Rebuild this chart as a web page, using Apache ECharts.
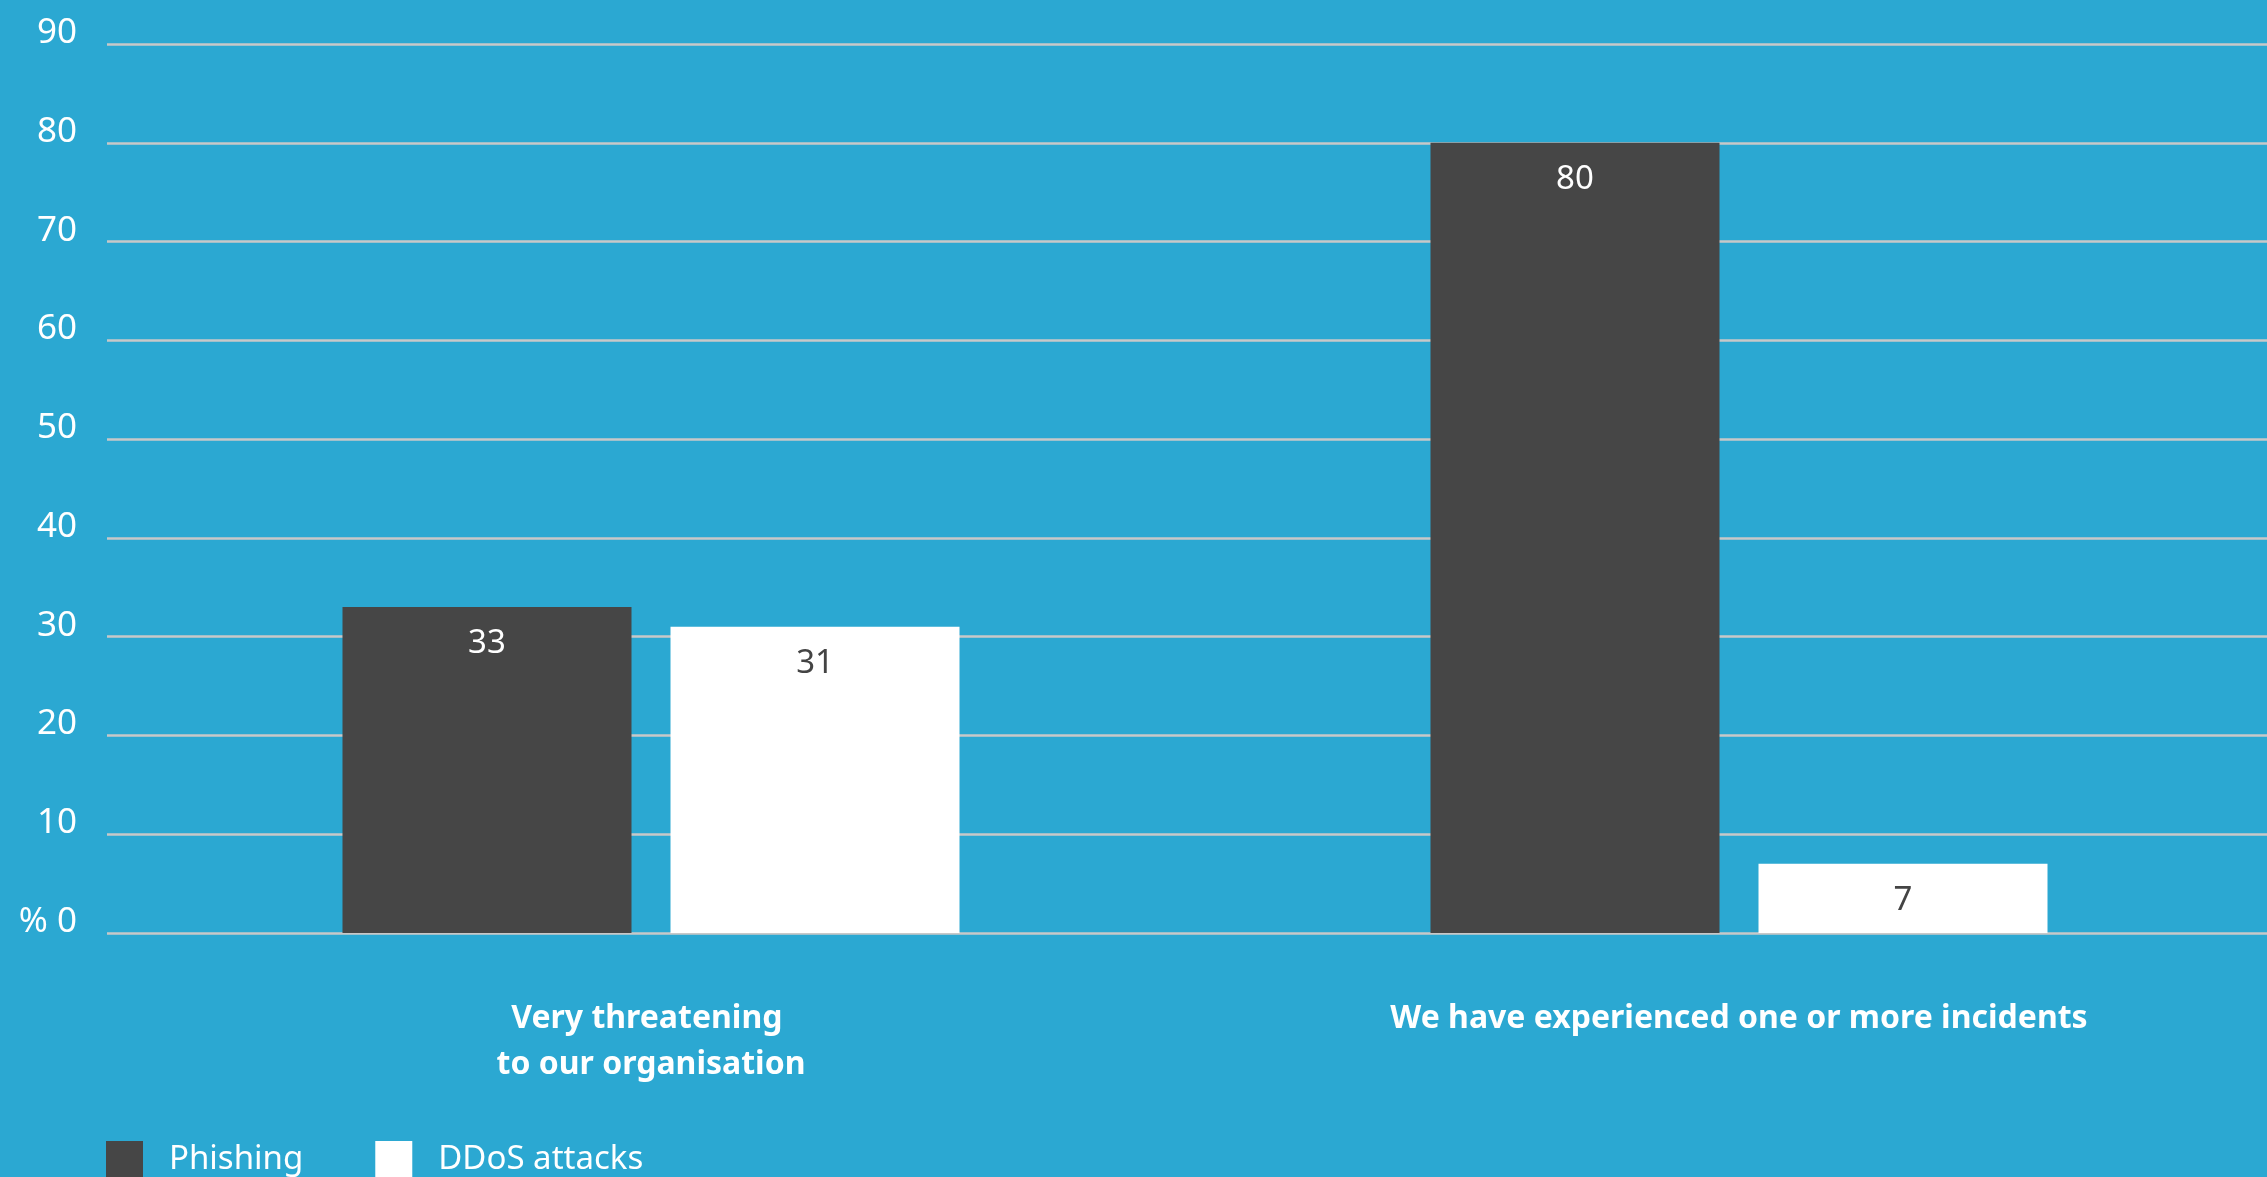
<!DOCTYPE html>
<html>
<head>
<meta charset="utf-8">
<script src="https://cdn.jsdelivr.net/npm/echarts@6/dist/echarts.min.js"></script>
<style>
  html, body { margin: 0; padding: 0; background: #2ba8d2; }
  #chart { width: 2267px; height: 1177px; }
</style>
</head>
<body>
<div id="chart"></div>
<script>
const categories = ['Very threatening \nto our organisation', 'We have experienced one or more incidents']
const seriesNames = ['Phishing', 'DDoS attacks']
const phishing = [33, 80]
const ddos = [31, 7]

const font = 'Noto Sans'
var myChart = echarts.init(document.getElementById('chart'))
var option = {
  backgroundColor: '#2ba8d2',
  animation: false,
  textStyle: { fontFamily: font },
  grid: { left: 107, right: -16, top: 44, bottom: 244, outerBoundsMode: 'none', containLabel: false },
  legend: {
    data: seriesNames,
    left: 106,
    top: 1141,
    padding: 0,
    itemWidth: 37,
    itemHeight: 37,
    itemGap: 72,
    icon: 'rect',
    textStyle: { color: '#fff', fontSize: 33, fontFamily: font, padding: [0, 0, 0, 21] }
  },
  xAxis: {
    type: 'category',
    data: categories,
    axisLine: { show: false },
    axisTick: { show: false },
    axisLabel: {
      color: '#fff',
      fontSize: 32,
      fontWeight: 'bold',
      lineHeight: 46,
      margin: 63,
      fontFamily: font
    }
  },
  yAxis: {
    type: 'value',
    min: 0,
    max: 90,
    interval: 10,
    axisLine: { show: false },
    axisTick: { show: false },
    splitLine: { lineStyle: { color: '#c8c8c8', width: 2.5 } },
    axisLabel: {
      color: '#fff',
      fontSize: 35,
      margin: 30,
      verticalAlign: 'bottom',
      lineHeight: 22,
      fontFamily: font,
      formatter: v => (v === 0 ? '% 0' : v)
    }
  },
  series: [
    {
      name: seriesNames[0],
      type: 'bar',
      data: phishing,
      barWidth: 289,
      barGap: '13.5%',
      itemStyle: { color: '#464646' },
      label: { show: true, position: 'insideTop', distance: 20, color: '#fff', fontSize: 33, fontFamily: font }
    },
    {
      name: seriesNames[1],
      type: 'bar',
      data: ddos,
      barWidth: 289,
      barGap: '13.5%',
      itemStyle: { color: '#ffffff' },
      label: { show: true, position: 'insideTop', distance: 20, color: '#444', fontSize: 33, fontFamily: font }
    }
  ]
}
option && myChart.setOption(option)
</script>
</body>
</html>
